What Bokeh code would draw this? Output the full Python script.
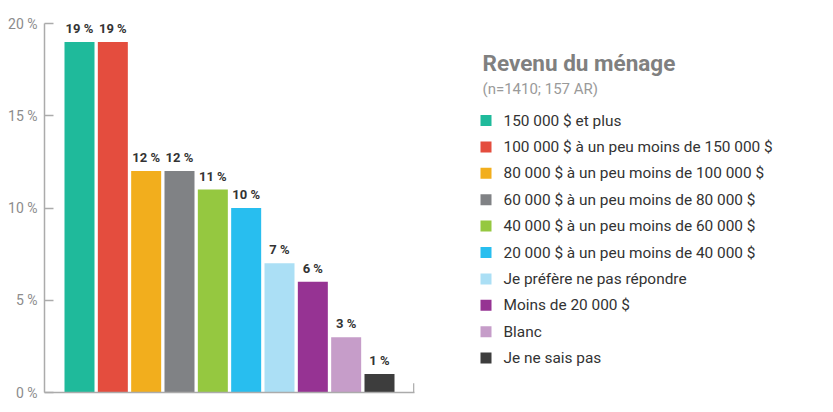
from bokeh.plotting import figure
from bokeh.layouts import row
from bokeh.models import ColumnDataSource, Range1d, FixedTicker, PrintfTickFormatter
from bokeh.core.properties import value
from bokeh.embed import file_html
from bokeh.resources import INLINE

# ---- data ----
categories = [
    "150 000 $ et plus",
    "100 000 $ à un peu moins de 150 000 $",
    "80 000 $ à un peu moins de 100 000 $",
    "60 000 $ à un peu moins de 80 000 $",
    "40 000 $ à un peu moins de 60 000 $",
    "20 000 $ à un peu moins de 40 000 $",
    "Je préfère ne pas répondre",
    "Moins de 20 000 $",
    "Blanc",
    "Je ne sais pas",
]
values = [19, 19, 12, 12, 11, 10, 7, 6, 3, 1]
colors = ["#1fba9b", "#e44d3e", "#f2ae1d", "#808285", "#95c840",
          "#28beef", "#abdff5", "#963393", "#c69dc9", "#3d3d3d"]
y_ticks = [0, 5, 10, 15, 20]
title_text = "Revenu du ménage"
subtitle_text = "(n=1410; 157 AR)"

FONT = "Roboto"
AXIS_GREY = "#ababab"
n = len(categories)
idx = list(range(n))

FR_TOP, FR_BOTTOM = 23, 392   # frame top / bottom in page pixels
H = 404

# ---- bar chart ----
src = ColumnDataSource(dict(
    x=idx, top=values, color=colors,
    label=[f"{v} %" for v in values],
))

x_lo, x_hi = -1.05, n - 1 + 1.05
p = figure(width=424, height=H, output_backend="svg", toolbar_location=None,
           title=None,
           x_range=Range1d(x_lo, x_hi), y_range=Range1d(0, 20),
           min_border_left=44, min_border_right=10, min_border_top=FR_TOP,
           min_border_bottom=H - FR_BOTTOM)
p.outline_line_color = None
p.grid.visible = False

p.vbar(x="x", top="top", width=0.9, color="color", line_color=None, source=src)
p.text(x="x", y="top", text="label", source=src, y_offset=-6,
       text_align="center", text_baseline="bottom",
       text_font=value(FONT), text_font_size="13px", text_font_style="bold",
       text_color="#333333")

ya = p.yaxis[0]
ya.ticker = FixedTicker(ticks=y_ticks)
ya.formatter = PrintfTickFormatter(format="%d %%")
ya.major_tick_in = 9
ya.major_tick_out = 0
ya.minor_tick_line_color = None
ya.axis_line_color = AXIS_GREY
ya.axis_line_width = 1.5
ya.major_tick_line_color = AXIS_GREY
ya.major_tick_line_width = 1.5
ya.major_label_text_font = FONT
ya.major_label_text_font_size = "14px"
ya.major_label_text_color = "#8c8c8c"
ya.major_label_standoff = 7

xa = p.xaxis[0]
xa.ticker = FixedTicker(ticks=[])
xa.major_tick_in = 0
xa.major_tick_out = 0
xa.minor_tick_line_color = None
xa.axis_line_color = AXIS_GREY
xa.axis_line_width = 1.5
xa.major_label_standoff = 0

# small closing tick at the right end of the x axis
p.segment(x0=[x_hi - 0.02], y0=[0], x1=[x_hi - 0.02], y1=[0.5],
          line_color=AXIS_GREY, line_width=1.5)

# ---- legend panel (data units == page pixels) ----
W2 = 401
q = figure(width=W2, height=H, output_backend="svg", toolbar_location=None,
           title=None,
           x_range=Range1d(0, W2), y_range=Range1d(FR_BOTTOM, FR_TOP),
           x_axis_location=None, y_axis_location=None,
           min_border_left=0, min_border_right=0,
           min_border_top=FR_TOP, min_border_bottom=H - FR_BOTTOM)
q.outline_line_color = None
q.grid.visible = False

row0, step = 120, 26.4
leg = ColumnDataSource(dict(
    y=[row0 + i * step for i in idx], label=categories, color=colors,
))
q.scatter(x=61.5, y="y", marker="square", size=11, color="color",
          line_color=None, source=leg)
q.text(x=79, y="y", text="label", source=leg, text_baseline="middle",
       text_font=value(FONT), text_font_size="15.4px", text_color="#333333")
q.text(x=[58], y=[62], text=[title_text], text_baseline="alphabetic",
       text_font=value(FONT), text_font_size="22.5px", text_font_style="bold",
       text_color="#808080")
q.text(x=[58], y=[88], text=[subtitle_text], text_baseline="alphabetic",
       text_font=value(FONT), text_font_size="15px", text_color="#9a9a9a")

layout = row(p, q)
open("out.html", "w").write(file_html(layout, INLINE))
